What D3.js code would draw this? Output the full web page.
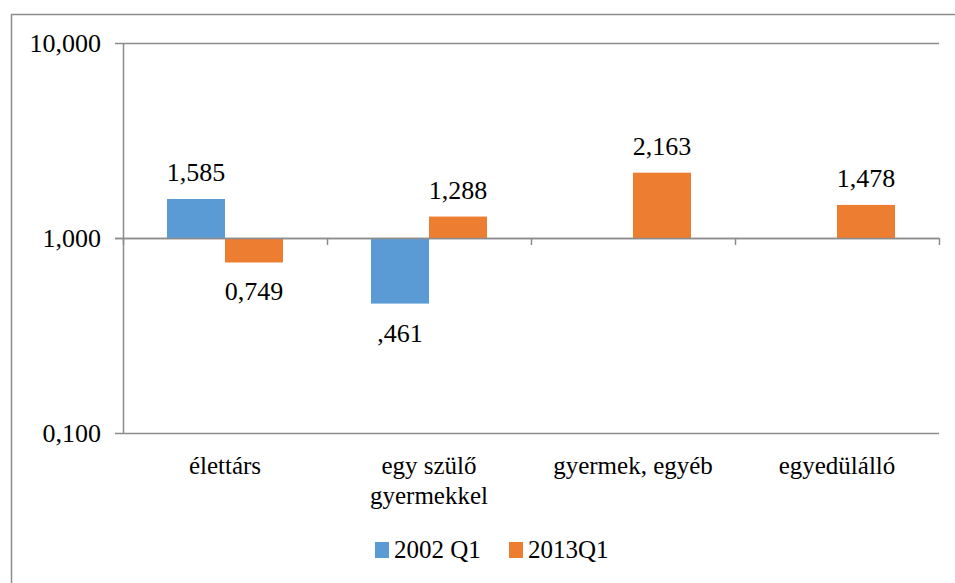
<!DOCTYPE html>
<html>
<head>
<meta charset="utf-8">
<script src="https://cdn.jsdelivr.net/npm/d3@7"></script>
</head>
<body style="margin:0;background:#fff">
<svg id="fig" width="955" height="583" style="display:block"></svg>
<script>
// Household types and relative ratios (log scale, base 1)
const categories = ["élettárs", "egy szülő\ngyermekkel", "gyermek, egyéb", "egyedülálló"];
const seriesNames = ["2002 Q1", "2013Q1"];
const values2002 = [1.585, 0.461, null, null];
const values2013 = [0.749, 1.288, 2.163, 1.478];
const valueLabels2002 = ["1,585", ",461", "", ""];
const valueLabels2013 = ["0,749", "1,288", "2,163", "1,478"];
const yTicks = [0.1, 1, 10];
const yTickLabels = ["0,100", "1,000", "10,000"];
const colors = ["#5B9BD5", "#ED7D31"];

const SERIF = "font-family:'Liberation Serif','Times New Roman',serif !important";
const svg = d3.select("#fig");
const W = 955, H = 583;
const plot = { left: 123, right: 939, top: 43, bottom: 433 };
const gray = "#8c8c8c";

// Outer chart frame
svg.append("rect")
  .attr("x", 11.5).attr("y", 14.5)
  .attr("width", W + 20).attr("height", H + 20)
  .attr("fill", "none").attr("stroke", gray).attr("stroke-width", 1.5);

const y = d3.scaleLog().domain([0.1, 10]).range([plot.bottom, plot.top]);
const x0 = d3.scaleBand().domain(d3.range(categories.length))
  .range([plot.left, plot.right]).paddingInner(0).paddingOuter(0);
const barW = 58;
const x1 = d3.scaleBand().domain([0, 1]).range([0, barW * 2]);

// Horizontal gridlines
svg.append("g").selectAll("line").data(yTicks).join("line")
  .attr("x1", plot.left - 8).attr("x2", plot.right)
  .attr("y1", d => Math.round(y(d)) + 0.5).attr("y2", d => Math.round(y(d)) + 0.5)
  .attr("stroke", gray).attr("stroke-width", 1.5);

// Vertical value axis
svg.append("line")
  .attr("x1", plot.left + 0.5).attr("x2", plot.left + 0.5)
  .attr("y1", plot.top).attr("y2", plot.bottom + 1)
  .attr("stroke", gray).attr("stroke-width", 1.5);

// Value axis labels
svg.append("g").selectAll("text").data(yTicks).join("text")
  .attr("x", 101).attr("y", d => y(d) + 9)
  .attr("text-anchor", "end")
  .attr("style", SERIF + ";font-size:26px")
  .text((d, i) => yTickLabels[i]);

// Bars grow from the baseline at 1
const series = [values2002, values2013];
const labelSets = [valueLabels2002, valueLabels2013];
series.forEach((vals, s) => {
  const g = svg.append("g");
  vals.forEach((v, i) => {
    if (v == null) return;
    const bx = x0(i) + x0.bandwidth() / 2 - barW + x1(s);
    const y1 = y(1), yv = y(v);
    g.append("rect")
      .attr("x", bx).attr("width", x1.bandwidth())
      .attr("y", Math.min(y1, yv)).attr("height", Math.abs(yv - y1))
      .attr("fill", colors[s]);
    const above = v >= 1;
    g.append("text")
      .attr("x", bx + x1.bandwidth() / 2)
      .attr("y", above ? yv - 18 : yv + 38)
      .attr("text-anchor", "middle")
      .attr("style", SERIF + ";font-size:26px")
      .text(labelSets[s][i]);
  });
});

// Category axis at y = 1
svg.append("line")
  .attr("x1", plot.left - 8).attr("x2", plot.right)
  .attr("y1", Math.round(y(1)) + 0.5).attr("y2", Math.round(y(1)) + 0.5)
  .attr("stroke", gray).attr("stroke-width", 1.5);
svg.append("g").selectAll("line").data(d3.range(categories.length + 1)).join("line")
  .attr("x1", d => Math.round(plot.left + d * x0.step()) + 0.5)
  .attr("x2", d => Math.round(plot.left + d * x0.step()) + 0.5)
  .attr("y1", y(1)).attr("y2", y(1) + 7)
  .attr("stroke", gray).attr("stroke-width", 1.5);

// Category labels below the plot
const catG = svg.append("g");
categories.forEach((c, i) => {
  const t = catG.append("text")
    .attr("x", x0(i) + x0.bandwidth() / 2)
    .attr("y", 474)
    .attr("text-anchor", "middle")
    .attr("style", SERIF + ";font-size:25px");
  c.split("\n").forEach((line, k) => {
    t.append("tspan").attr("x", x0(i) + x0.bandwidth() / 2)
      .attr("dy", k === 0 ? 0 : 30).text(line);
  });
});

// Legend
const legendX = [375, 509];
legendX.forEach((lx, i) => {
  svg.append("rect").attr("x", lx).attr("y", 542).attr("width", 14).attr("height", 16)
    .attr("fill", colors[i]);
  svg.append("text").attr("x", lx + 19).attr("y", 558)
    .attr("style", SERIF + ";font-size:25px").text(seriesNames[i]);
});
</script>
</body>
</html>
